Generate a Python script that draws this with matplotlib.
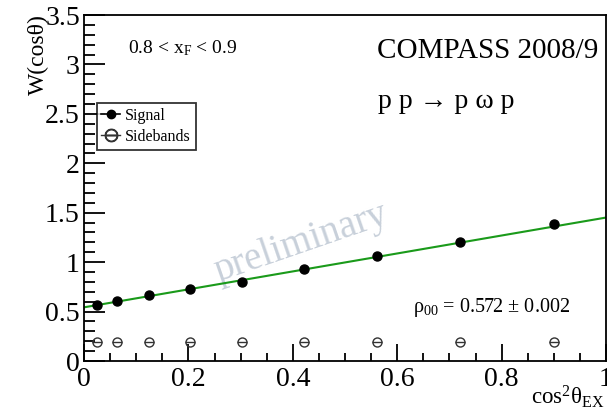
import matplotlib
matplotlib.use("Agg")
import matplotlib.pyplot as plt
from matplotlib.lines import Line2D
from matplotlib.ticker import MultipleLocator

plt.rcParams['font.family'] = ['Liberation Serif', 'DejaVu Serif']
plt.rcParams['mathtext.fontset'] = 'custom'
plt.rcParams['mathtext.rm'] = 'Liberation Serif'
plt.rcParams['mathtext.it'] = 'Liberation Serif'
plt.rcParams['mathtext.bf'] = 'Liberation Serif:bold'

# Signal: W(cos theta) vs cos^2(theta_EX)
sig_x = [0.024, 0.064, 0.125, 0.203, 0.303, 0.422, 0.562, 0.721, 0.901]
sig_y = [0.563, 0.610, 0.670, 0.728, 0.796, 0.927, 1.065, 1.203, 1.382]
sig_err = [0.030, 0.015, 0.012, 0.012, 0.012, 0.010, 0.010, 0.010, 0.012]

# Sidebands
sb_x = [0.024, 0.064, 0.125, 0.203, 0.303, 0.422, 0.562, 0.721, 0.901]
sb_y = [0.195, 0.195, 0.195, 0.195, 0.195, 0.195, 0.195, 0.195, 0.195]

# Linear fit W = a + b * cos^2
fit_a = 0.543
fit_b = 0.908

x_ticks = [0, 0.2, 0.4, 0.6, 0.8, 1.0]
x_ticklabels = ['0', '0.2', '0.4', '0.6', '0.8', '1']
y_ticks = [0, 0.5, 1, 1.5, 2, 2.5, 3, 3.5]
y_ticklabels = ['0', '0.5', '1', '1.5', '2', '2.5', '3', '3.5']

fig = plt.figure(figsize=(6.07, 4.11), dpi=100)
ax = fig.add_axes([84/607, 1-361/411, 522/607, 346/411])

fx = [0.0, 1.0]
ax.plot(fx, [fit_a + fit_b*v for v in fx], color='#1a9a1a', lw=1.5, zorder=2)

ax.errorbar(sig_x, sig_y, yerr=sig_err, fmt='o', color='black', ms=6.5,
            elinewidth=1.2, capsize=0, zorder=3)
ax.plot(sb_x, sb_y, 'o', mfc='none', mec='#333333', ms=6.5, mew=1.0, zorder=3)
ax.plot(sb_x, sb_y, '_', color='#333333', ms=6.5, mew=1.0, zorder=3)

ax.set_xlim(0, 1)
ax.set_ylim(0, 3.5)
ax.xaxis.set_minor_locator(MultipleLocator(0.05))
ax.yaxis.set_minor_locator(MultipleLocator(0.1))
ax.set_xticks(x_ticks)
ax.set_xticklabels(x_ticklabels)
ax.set_yticks(y_ticks)
ax.set_yticklabels(y_ticklabels)
ax.tick_params(axis='both', which='both', direction='in', top=False, right=False,
               labelsize=20, width=1.3, colors='black')
ax.tick_params(axis='y', which='major', length=15, pad=3)
ax.tick_params(axis='y', which='minor', length=8)
ax.tick_params(axis='x', which='major', length=12, pad=4)
ax.tick_params(axis='x', which='minor', length=6)
for s in ax.spines.values():
    s.set_linewidth(1.3)

fig.text(28/607, 1-14/411, 'W(cosθ)', rotation=90, ha='left', va='top', fontsize=17)
fig.text(604/607, 1-410/411, r'cos$^{2}$θ$_{\mathrm{EX}}$', ha='right', va='bottom', fontsize=16.5)

ax.text(0.084, 0.905, r'0.8 < x$_{\mathrm{F}}$ < 0.9', transform=ax.transAxes,
        fontsize=14, ha='left', va='center')
ax.text(0.985, 0.895, 'COMPASS 2008/9', transform=ax.transAxes,
        fontsize=21, ha='right', va='center')
ax.text(0.563, 0.75, 'p p → p ω p', transform=ax.transAxes,
        fontsize=20, ha='left', va='center')
ax.text(0.63, 0.155, r'ρ$_{00}$ = 0.572 ± 0.002', transform=ax.transAxes,
        fontsize=14.5, ha='left', va='center')
ax.text(0.415, 0.34, 'preliminary', transform=ax.transAxes, rotation=19,
        fontsize=28, color='#c8d0da', ha='center', va='center', zorder=1)

handles = [
    Line2D([0], [0], color='black', marker='o', ms=6, lw=1.2),
    Line2D([0], [0], color='#333333', marker='$\\ominus$', ms=9, lw=1.0),
]
leg = ax.legend(handles, ['Signal', 'Sidebands'], loc='upper left',
                bbox_to_anchor=(0.024, 0.745), fontsize=11.5, frameon=True,
                fancybox=False, edgecolor='black', handlelength=1.2,
                handletextpad=0.3, borderpad=0.3, labelspacing=0.3,
                borderaxespad=0)
leg.get_frame().set_linewidth(1.3)

fig.savefig('out.png', dpi=100)
